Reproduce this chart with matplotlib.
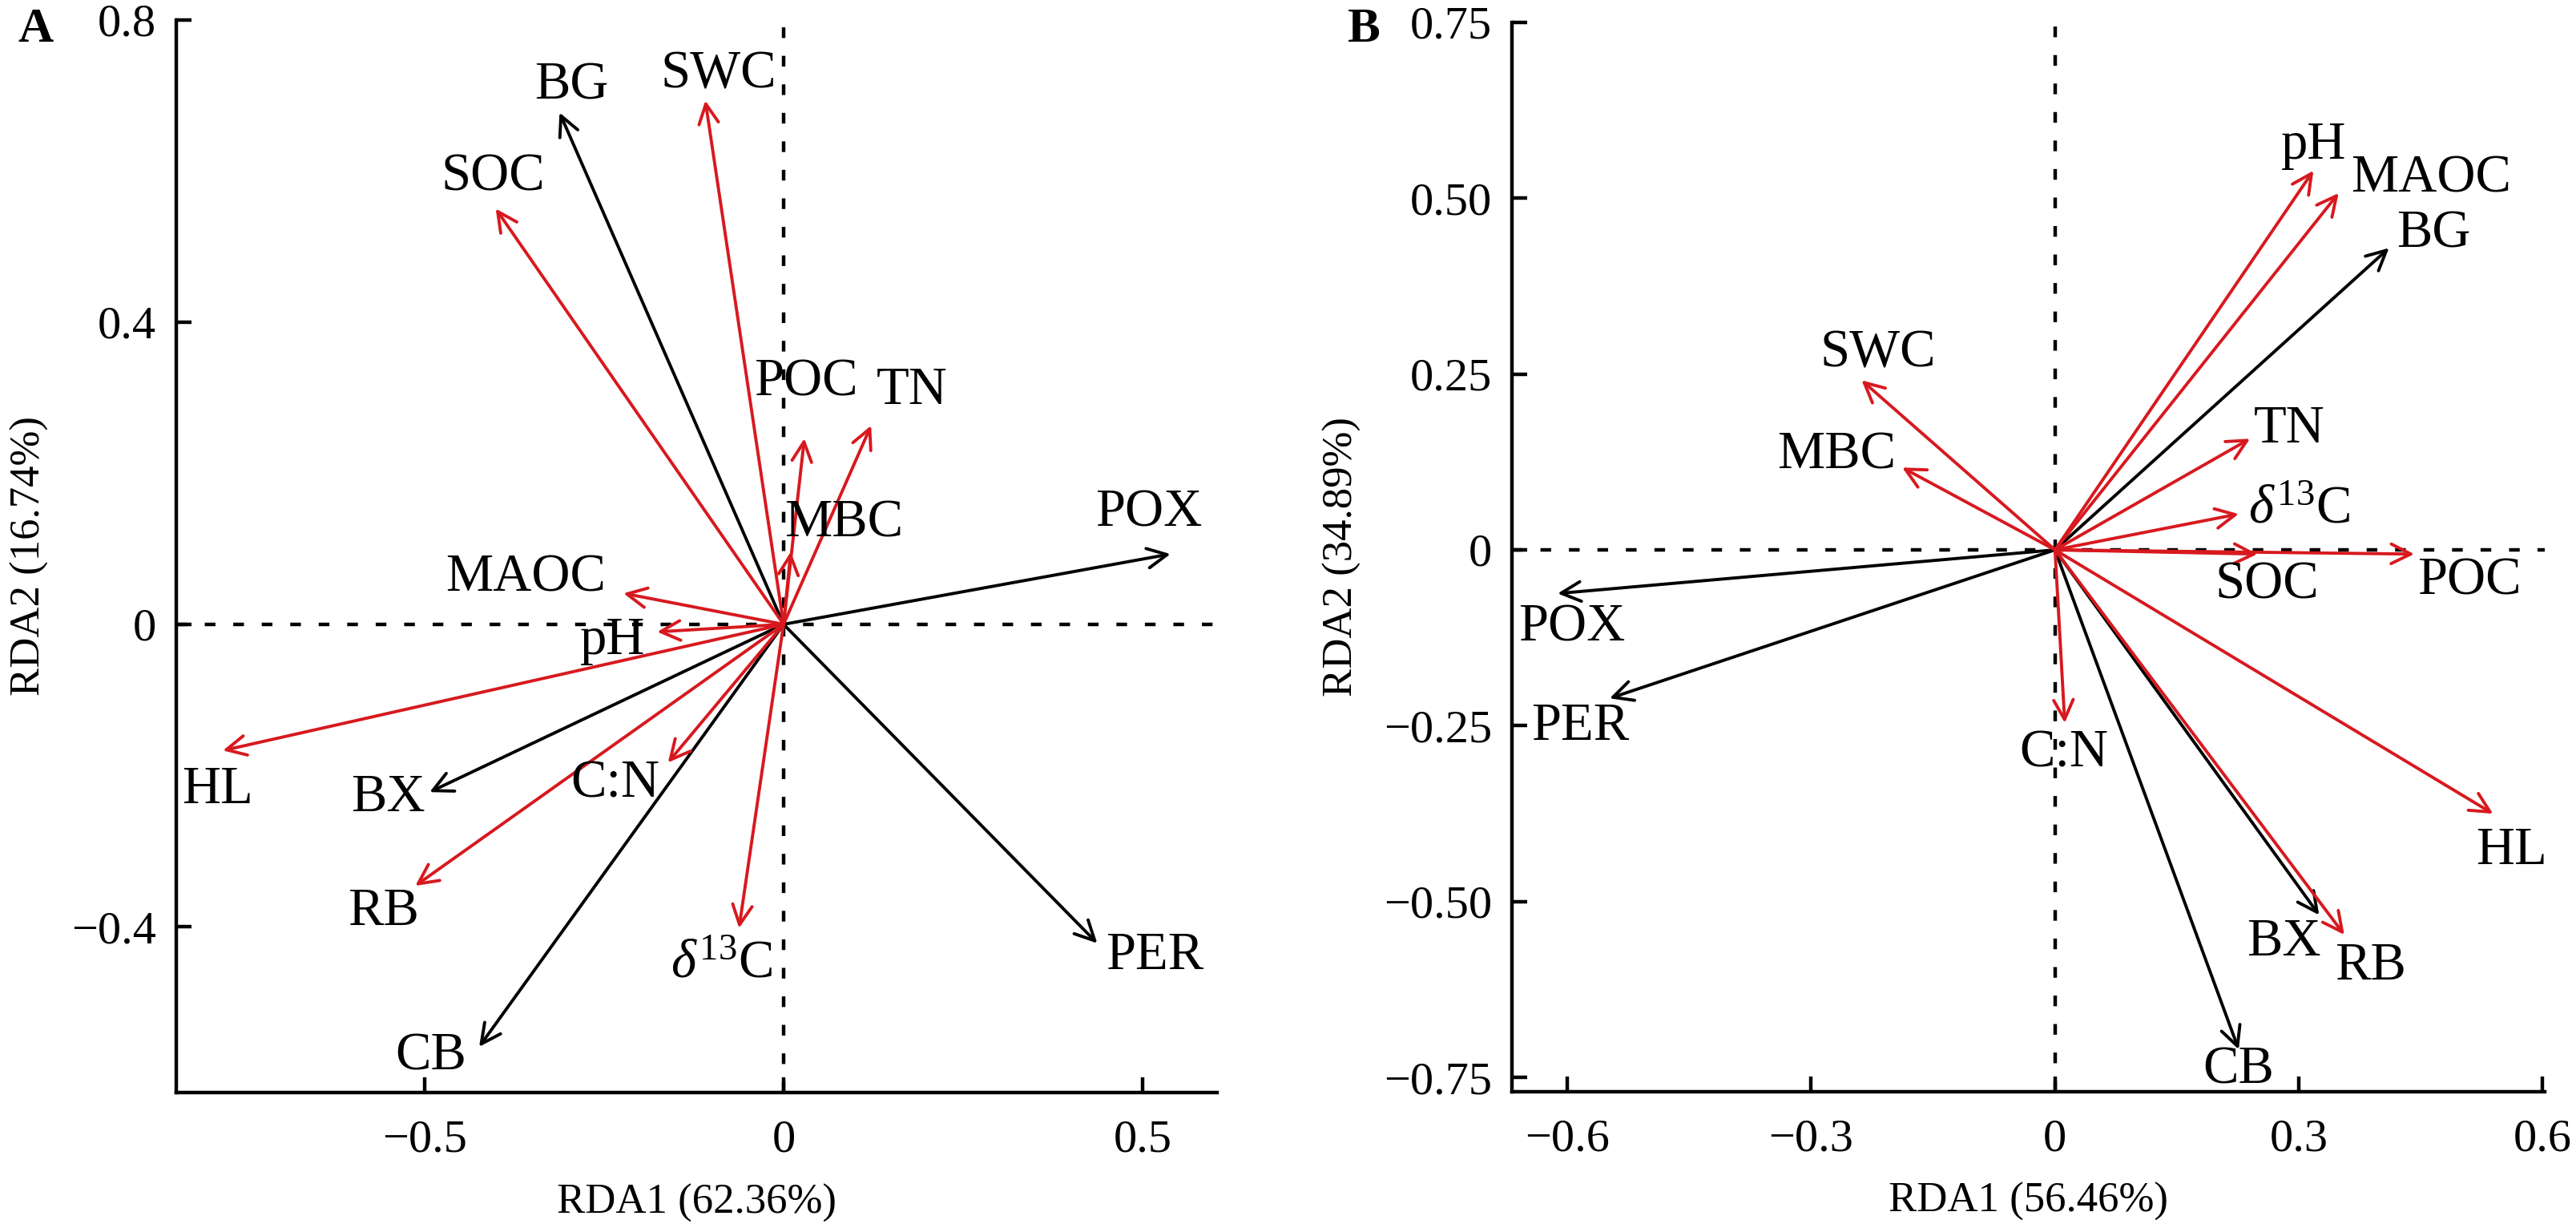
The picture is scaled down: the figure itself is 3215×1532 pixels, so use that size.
#!/usr/bin/env python3
"""RDA biplots (panels A and B): loading arrows of soil variables."""

import matplotlib
matplotlib.use('Agg')
import matplotlib.pyplot as plt

plt.rcParams['font.family'] = ['Liberation Serif', 'DejaVu Serif']
plt.rcParams['mathtext.fontset'] = 'custom'
plt.rcParams['mathtext.rm'] = 'Liberation Serif'
plt.rcParams['mathtext.it'] = 'Liberation Serif:italic'

D13C = r'$\delta^{\mathrm{13}}$C'

# ---- panel A data (RDA1 / RDA2 loadings) ----
vars_a = ['BG', 'SWC', 'SOC', 'POC', 'TN', 'MBC', 'POX', 'MAOC', 'pH',
          'HL', 'BX', 'C:N', 'RB', D13C, 'CB', 'PER']
rda1_a = [-0.312, -0.109, -0.401, 0.029, 0.122, 0.010, 0.539, -0.223, -0.176,
          -0.781, -0.493, -0.161, -0.513, -0.062, -0.424, 0.437]
rda2_a = [0.677, 0.693, 0.550, 0.246, 0.263, 0.096, 0.093, 0.041, -0.010,
          -0.167, -0.222, -0.183, -0.346, -0.402, -0.559, -0.422]
xlab_a = 'RDA1 (62.36%)'
ylab_a = 'RDA2 (16.74%)'
xticks_a = [-0.5, 0, 0.5]
xticklabels_a = ['\u22120.5', '0', '0.5']
yticks_a = [-0.4, 0, 0.4, 0.8]
yticklabels_a = ['\u22120.4', '0', '0.4', '0.8']

# ---- panel B data ----
vars_b = ['pH', 'MAOC', 'BG', 'TN', D13C, 'SOC', 'POC', 'SWC', 'MBC',
          'POX', 'PER', 'C:N', 'HL', 'BX', 'RB', 'CB']
rda1_b = [0.318, 0.349, 0.411, 0.240, 0.226, 0.249, 0.442, -0.238, -0.188,
          -0.612, -0.548, 0.012, 0.539, 0.325, 0.356, 0.226]
rda2_b = [0.539, 0.507, 0.429, 0.158, 0.051, -0.006, -0.006, 0.241, 0.117,
          -0.062, -0.211, -0.246, -0.375, -0.519, -0.547, -0.710]
xlab_b = 'RDA1 (56.46%)'
ylab_b = 'RDA2 (34.89%)'
xticks_b = [-0.6, -0.3, 0, 0.3, 0.6]
xticklabels_b = ['\u22120.6', '\u22120.3', '0', '0.3', '0.6']
yticks_b = [-0.75, -0.5, -0.25, 0, 0.25, 0.5, 0.75]
yticklabels_b = ['\u22120.75', '\u22120.50', '\u22120.25', '0', '0.25', '0.50', '0.75']

# variables drawn in black (the rest are red)
black_vars = {'BG', 'POX', 'BX', 'CB', 'PER'}

# label placement (text centres, data units)
label_pos_a = {
    'BG': (-0.295, 0.713), 'SWC': (-0.091, 0.727), 'SOC': (-0.405, 0.592),
    'POC': (0.031, 0.320), 'TN': (0.179, 0.309), 'MBC': (0.084, 0.134),
    'POX': (0.509, 0.147), 'MAOC': (-0.359, 0.061), 'pH': (-0.238, -0.022),
    'HL': (-0.788, -0.219), 'BX': (-0.551, -0.230), 'C:N': (-0.235, -0.211),
    'RB': (-0.557, -0.380), D13C: (-0.087, -0.450), 'CB': (-0.491, -0.572),
    'PER': (0.517, -0.439),
}
label_pos_b = {
    'pH': (0.318, 0.575), 'MAOC': (0.463, 0.527), 'BG': (0.466, 0.449),
    'TN': (0.288, 0.171), D13C: (0.300, 0.057), 'SOC': (0.261, -0.050),
    'POC': (0.510, -0.045), 'SWC': (-0.218, 0.279), 'MBC': (-0.269, 0.134),
    'POX': (-0.595, -0.110), 'PER': (-0.584, -0.251), 'C:N': (0.011, -0.289),
    'HL': (0.562, -0.428), 'BX': (0.282, -0.558), 'RB': (0.388, -0.592),
    'CB': (0.226, -0.739),
}

RED = '#d7191f'


def draw_panel(ax, names, xs, ys, label_pos, xlim, ylim,
               xticks, xticklabels, yticks, yticklabels, xlabel, ylabel):
    ax.set_xlim(*xlim)
    ax.set_ylim(*ylim)
    ax.axhline(0, color='black', lw=1.6, ls=(0, (3, 5)), zorder=1)
    ax.axvline(0, color='black', lw=1.6, ls=(0, (3, 5)), zorder=1)

    # black arrows first, red on top
    order = sorted(range(len(names)), key=lambda i: names[i] not in black_vars)
    for i in order:
        c = 'black' if names[i] in black_vars else RED
        ax.annotate('', xy=(xs[i], ys[i]), xytext=(0, 0),
                    arrowprops=dict(arrowstyle='->', color=c, lw=1.4,
                                    mutation_scale=22, shrinkA=0, shrinkB=0),
                    zorder=2)
        tx, ty = label_pos[names[i]]
        ax.text(tx, ty, names[i], ha='center', va='center', fontsize=24,
                color='black', zorder=3)

    for s in ('top', 'right'):
        ax.spines[s].set_visible(False)
    for s in ('left', 'bottom'):
        ax.spines[s].set_linewidth(1.6)
    ax.spines['left'].set_bounds(ylim[0], yticks[-1])
    ax.spines['bottom'].set_bounds(xlim[0], xlim[1])

    ax.set_xticks(xticks)
    ax.set_xticklabels(xticklabels)
    ax.set_yticks(yticks)
    ax.set_yticklabels(yticklabels)
    ax.tick_params(direction='in', length=7, width=1.6, labelsize=21)
    ax.tick_params(axis='x', pad=12)
    ax.tick_params(axis='y', pad=9)
    ax.set_xlabel(xlabel, fontsize=19, labelpad=10)
    ax.set_ylabel(ylabel, fontsize=19, labelpad=10)


fig = plt.figure(figsize=(16.075, 7.66), dpi=200)
ax_a = fig.add_axes([0.0684, 0.110, 0.4041, 0.874])
ax_b = fig.add_axes([0.587, 0.111, 0.401, 0.871])

draw_panel(ax_a, vars_a, rda1_a, rda2_a, label_pos_a,
           (-0.846, 0.604), (-0.62, 0.8),
           xticks_a, xticklabels_a, yticks_a, yticklabels_a, xlab_a, ylab_a)
draw_panel(ax_b, vars_b, rda1_b, rda2_b, label_pos_b,
           (-0.668, 0.603), (-0.77, 0.75),
           xticks_b, xticklabels_b, yticks_b, yticklabels_b, xlab_b, ylab_b)

fig.text(0.007, 0.976, 'A', fontsize=22, fontweight='bold', va='center')
fig.text(0.523, 0.976, 'B', fontsize=22, fontweight='bold', va='center')

plt.savefig('out.png', dpi=200)
